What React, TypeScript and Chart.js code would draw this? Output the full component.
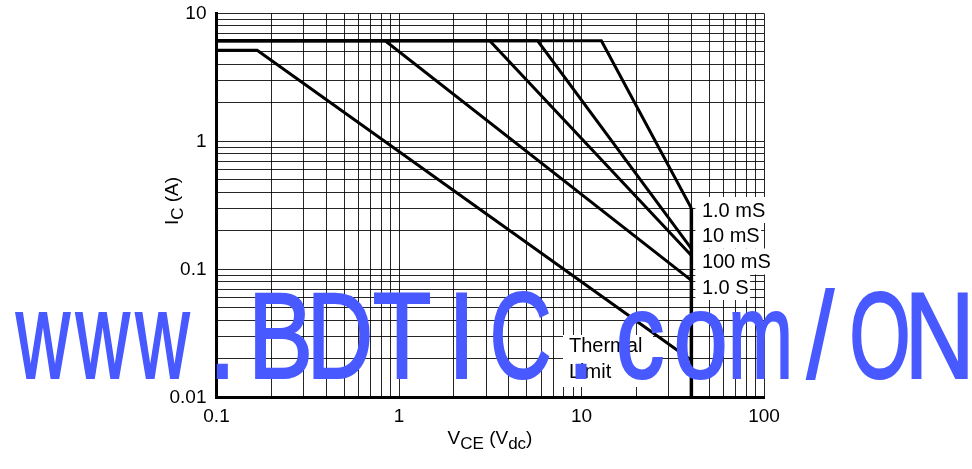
import React, { useEffect, useRef } from 'react';
import { Chart, registerables } from 'chart.js';

Chart.register(...registerables);

// ---- Axis ticks ----
const xTickValues = [0.1, 1, 10, 100];
const xTickLabels = ['0.1', '1', '10', '100'];
const yTickValues = [0.01, 0.1, 1, 10];
const yTickLabels = ['0.01', '0.1', '1', '10'];
const gridMultipliers = [1, 2, 3, 4, 5, 6, 7, 8, 9];

// ---- Series (VCE in Vdc, IC in A) ----
const vce1ms = [0.1, 12.85, 40];
const ic1ms = [6.1, 6.1, 0.3];
const vce10ms = [0.1, 5.75, 40];
const ic10ms = [6.1, 6.1, 0.145];
const vce100ms = [0.1, 3.14, 40];
const ic100ms = [6.1, 6.1, 0.128];
const vce1s = [0.1, 0.84, 40];
const ic1s = [6.1, 6.1, 0.082];
const vceThermal = [0.1, 0.167, 40];
const icThermal = [5.15, 5.15, 0.0195];
const vceLimit = [40, 40];
const icLimit = [0.01, 0.3];

const seriesLabels = ['1.0 mS', '10 mS', '100 mS', '1.0 S'];
const thermalLabels = ['Thermal', 'Limit'];
const watermarkText = 'www.BDTIC.com/ON';

const FONT = '"Liberation Sans", Arial, Helvetica, sans-serif';

function buildGrid(decades: number[]): number[] {
  const out: number[] = [];
  for (let i = 0; i < decades.length - 1; i++) {
    for (const m of gridMultipliers) out.push(+(decades[i] * m).toPrecision(6));
  }
  out.push(decades[decades.length - 1]);
  return out;
}

function toPoints(xs: number[], ys: number[]) {
  return xs.map((x, i) => ({ x, y: ys[i] }));
}

function labelFor(values: number[], labels: string[], v: number): string {
  const idx = values.findIndex((t) => Math.abs(Math.log10(t) - Math.log10(v)) < 1e-6);
  return idx >= 0 ? labels[idx] : '';
}

const overlayPlugin = {
  id: 'overlay',
  afterDatasetsDraw(chart: any) {
    const { ctx, scales } = chart;
    const x = scales.x;
    ctx.save();
    ctx.font = `20px ${FONT}`;
    ctx.textBaseline = 'middle';
    ctx.textAlign = 'left';
    const lx = x.getPixelForValue(40) + 10.5;
    const labelYs = [210, 235.5, 261.5, 287];
    ctx.fillStyle = '#fff';
    seriesLabels.forEach((t, i) => {
      const w = ctx.measureText(t).width;
      ctx.fillRect(lx - 6.5, labelYs[i] - 13, w + 8, 26);
    });
    ctx.fillStyle = '#000';
    seriesLabels.forEach((t, i) => ctx.fillText(t, lx, labelYs[i] + 1));

    // Thermal limit box
    ctx.fillStyle = '#fff';
    ctx.fillRect(563, 335, 90, 52);
    ctx.fillStyle = '#000';
    ctx.fillText(thermalLabels[0], 569, 346);
    ctx.fillText(thermalLabels[1], 569, 372);
    ctx.restore();
  },
  afterDraw(chart: any) {
    const { ctx } = chart;
    ctx.save();
    ctx.fillStyle = '#000';
    ctx.textBaseline = 'alphabetic';
    ctx.textAlign = 'left';

    // X title: V_CE (V_dc)
    const big = `19px ${FONT}`;
    const sub = `17px ${FONT}`;
    const xParts: [string, boolean][] = [['V', false], ['CE', true], [' (V', false], ['dc', true], [')', false]];
    let total = 0;
    xParts.forEach(([t, s]) => {
      ctx.font = s ? sub : big;
      total += ctx.measureText(t).width;
    });
    let cx = 490 - total / 2;
    const baseX = 443.5;
    xParts.forEach(([t, s]) => {
      ctx.font = s ? sub : big;
      ctx.fillText(t, cx, s ? baseX + 5 : baseX);
      cx += ctx.measureText(t).width;
    });

    // Y title: I_C (A)
    const yParts: [string, boolean][] = [['I', false], ['C', true], [' (A)', false]];
    total = 0;
    yParts.forEach(([t, s]) => {
      ctx.font = s ? sub : big;
      total += ctx.measureText(t).width;
    });
    ctx.save();
    ctx.translate(177.5, 201);
    ctx.rotate(-Math.PI / 2);
    let cy = -total / 2;
    yParts.forEach(([t, s]) => {
      ctx.font = s ? sub : big;
      ctx.fillText(t, cy, s ? 5 : 0);
      cy += ctx.measureText(t).width;
    });
    ctx.restore();

    // Watermark: fixed-pitch cells, condensed sans glyphs
    ctx.save();
    ctx.fillStyle = 'rgb(72, 90, 255)';
    ctx.strokeStyle = 'rgb(72, 90, 255)';
    ctx.lineJoin = 'miter';
    ctx.font = `122px ${FONT}`;
    ctx.textAlign = 'left';
    const pitch = 59.8;
    const startX = 13;
    for (let i = 0; i < watermarkText.length; i++) {
      const ch = watermarkText[i];
      const m = ctx.measureText(ch);
      const bw = m.actualBoundingBoxLeft + m.actualBoundingBoxRight;
      const sx = Math.min(0.8, 55 / Math.max(bw, 1));
      const mid = (m.actualBoundingBoxRight - m.actualBoundingBoxLeft) / 2;
      const cxw = startX + pitch / 2 + i * pitch;
      ctx.save();
      ctx.translate(cxw, 377.5);
      ctx.scale(sx, 1);
      ctx.lineWidth = 2.2;
      ctx.fillText(ch, -mid, 0);
      ctx.strokeText(ch, -mid, 0);
      ctx.restore();
    }
    ctx.restore();

    ctx.restore();
  },
};

export default function App() {
  const canvasRef = useRef<HTMLCanvasElement | null>(null);

  useEffect(() => {
    const canvas = canvasRef.current;
    if (!canvas) return;
    const xGrid = buildGrid(xTickValues);
    const yGrid = buildGrid(yTickValues);
    const lineStyle = {
      showLine: true,
      borderColor: '#000',
      borderWidth: 3,
      pointRadius: 0,
      fill: false,
      tension: 0,
      borderJoinStyle: 'miter' as const,
    };
    const chart = new Chart(canvas, {
      type: 'scatter',
      data: {
        datasets: [
          { label: seriesLabels[0], data: toPoints(vce1ms, ic1ms), ...lineStyle },
          { label: seriesLabels[1], data: toPoints(vce10ms, ic10ms), ...lineStyle },
          { label: seriesLabels[2], data: toPoints(vce100ms, ic100ms), ...lineStyle },
          { label: seriesLabels[3], data: toPoints(vce1s, ic1s), ...lineStyle },
          { label: 'Thermal Limit', data: toPoints(vceThermal, icThermal), ...lineStyle },
          { label: 'Limit', data: toPoints(vceLimit, icLimit), ...lineStyle, borderWidth: 3.5 },
        ],
      },
      options: {
        animation: false,
        responsive: false,
        devicePixelRatio: 1,
        layout: { padding: { left: 0, right: 208, top: 13.3, bottom: 0 } },
        plugins: { legend: { display: false }, tooltip: { enabled: false } },
        scales: {
          x: {
            type: 'logarithmic',
            min: 0.1,
            max: 100,
            afterBuildTicks: (scale: any) => {
              scale.ticks = xGrid.map((v) => ({ value: v }));
            },
            afterFit: (scale: any) => {
              scale.height = 71.7;
              scale.paddingLeft = 0;
              scale.paddingRight = 0;
            },
            grid: { color: 'rgba(0,0,0,0.85)', lineWidth: 1, drawTicks: false },
            border: { display: true, color: '#000', width: 3 },
            ticks: {
              autoSkip: false,
              maxRotation: 0,
              minRotation: 0,
              padding: 8,
              color: '#000',
              font: { family: FONT, size: 19 },
              callback: (v: any) => labelFor(xTickValues, xTickLabels, Number(v)),
            },
          },
          y: {
            type: 'logarithmic',
            min: 0.01,
            max: 10,
            afterBuildTicks: (scale: any) => {
              scale.ticks = yGrid.map((v) => ({ value: v }));
            },
            afterFit: (scale: any) => {
              scale.width = 216.5;
              scale.paddingTop = 0;
              scale.paddingBottom = 0;
            },
            grid: { color: 'rgba(0,0,0,0.85)', lineWidth: 1, drawTicks: false },
            border: { display: true, color: '#000', width: 3 },
            ticks: {
              autoSkip: false,
              padding: 10,
              color: '#000',
              font: { family: FONT, size: 19 },
              callback: (v: any) => labelFor(yTickValues, yTickLabels, Number(v)),
            },
          },
        },
      },
      plugins: [overlayPlugin],
    } as any);
    return () => chart.destroy();
  }, []);

  return (
    <div style={{ position: 'absolute', left: 0, top: 0, width: 972, height: 469, background: '#fff' }}>
      <canvas ref={canvasRef} width={972} height={469} style={{ width: 972, height: 469, display: 'block' }} />
    </div>
  );
}
